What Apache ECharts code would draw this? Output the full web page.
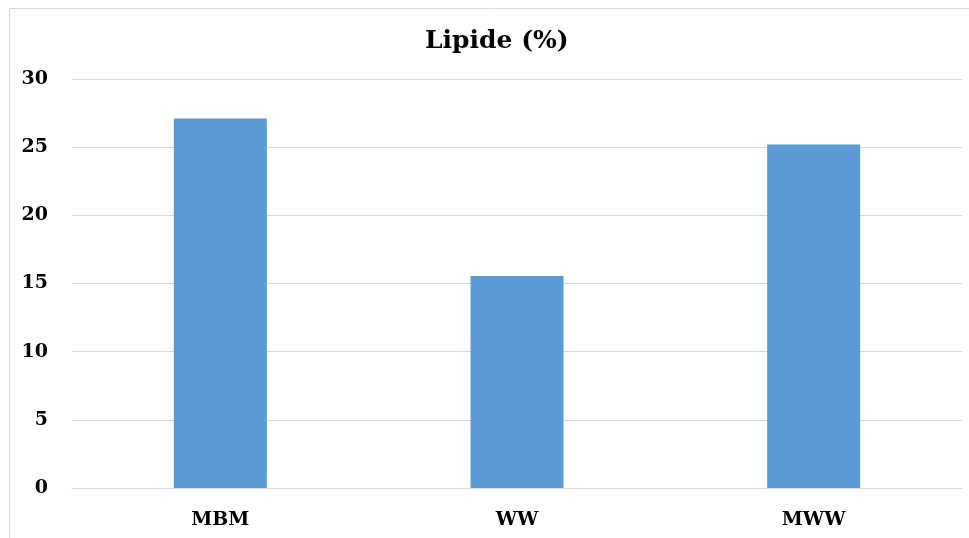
<!DOCTYPE html>
<html><head><meta charset="utf-8">
<script src="https://cdn.jsdelivr.net/npm/echarts@6/dist/echarts.min.js"></script>
<style>html,body{margin:0;padding:0;background:#fff}#c{width:969px;height:538px}</style>
</head><body><div id="c"></div>
<script>
const categories = ['MBM', 'WW', 'MWW'];
const values = [27.1, 15.55, 25.2];
const yTicks = [0, 5, 10, 15, 20, 25, 30];
const titleText = 'Lipide (%)';

const chart = echarts.init(document.getElementById('c'), null, {renderer: 'canvas'});
const serif = '"DejaVu Serif", "Liberation Serif", serif';
chart.setOption({
  animation: false,
  backgroundColor: '#fff',
  graphic: [{type: 'rect', shape: {x: 9.5, y: 8.5, width: 980, height: 560}, style: {fill: 'none', stroke: '#d9d9d9', lineWidth: 1}}],
  title: {text: titleText, left: 420, top: 24, textStyle: {fontFamily: serif, fontWeight: 'bold', fontSize: 25, color: '#000'}},
  grid: {left: 72, right: 7, top: 79, bottom: 50},
  xAxis: {type: 'category', data: categories,
    axisLine: {lineStyle: {color: '#d9d9d9', width: 1}}, axisTick: {show: false},
    axisLabel: {fontFamily: serif, fontWeight: 'bold', fontSize: 19, color: '#000', margin: 23}},
  yAxis: {type: 'value', min: yTicks[0], max: yTicks[yTicks.length-1], interval: 5,
    axisLine: {show: false}, axisTick: {show: false},
    splitLine: {lineStyle: {color: '#d9d9d9', width: 1}},
    axisLabel: {fontFamily: serif, fontWeight: 'bold', fontSize: 19, color: '#000', margin: 24}},
  series: [{type: 'bar', data: values, barWidth: 93, itemStyle: {color: '#5b9bd5'}}]
});
</script></body></html>
